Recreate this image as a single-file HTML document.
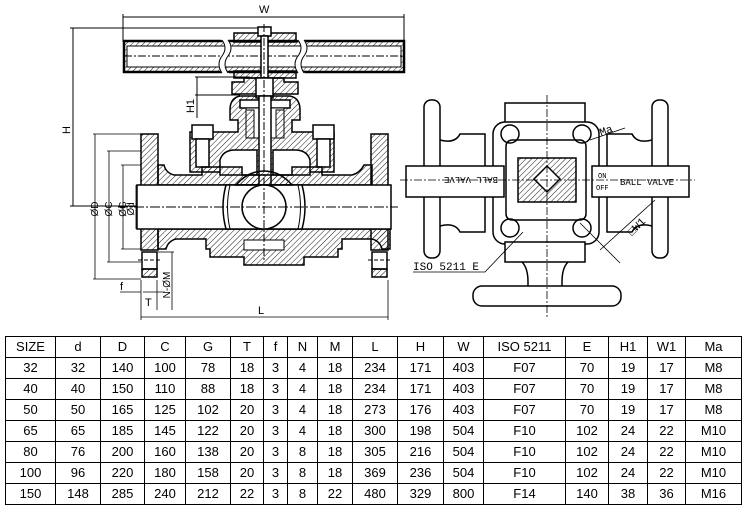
<!DOCTYPE html>
<html><head><meta charset="utf-8"><style>
body{margin:0;background:#fff;width:742px;height:507px;overflow:hidden;position:relative;font-family:"Liberation Sans",Arial,sans-serif}
svg{position:absolute;left:0;top:0}
table{position:absolute;left:5px;top:336px;border-collapse:collapse;font-size:13px;color:#000}
td{border:1px solid #000;height:20px;padding:0;text-align:center;line-height:20px}
</style></head><body>
<svg width="742" height="335" viewBox="0 0 742 335" font-family="Liberation Mono,monospace" font-size="11">
<defs><pattern id="h" width="4" height="4" patternUnits="userSpaceOnUse" patternTransform="rotate(45)"><line x1="0" y1="0" x2="0" y2="4" stroke="#000" stroke-width="0.9"/></pattern></defs>
<g stroke="#000" fill="none" stroke-width="1">
<!-- W dim -->
<line x1="123" y1="17" x2="404" y2="17"/><line x1="123" y1="14" x2="123" y2="42"/><line x1="404" y1="14" x2="404" y2="42"/>
<!-- H dim -->
<line x1="73" y1="28" x2="73" y2="206"/><line x1="70" y1="28" x2="262" y2="28"/><line x1="70" y1="206" x2="137" y2="206"/>
<!-- handle -->
<rect x="124" y="41" width="280" height="31" stroke-width="2.5" fill="url(#h)"/>
<rect x="127" y="46" width="274" height="21" fill="#fff" stroke="#000"/>
<line x1="124" y1="56" x2="404" y2="56" stroke-dasharray="8,2,2,2"/>
<path d="M222 40 q6 8 0 16 q-6 8 0 17 L228 73 q-6 -9 0 -17 q6 -8 0 -16z M298 40 q6 8 0 16 q-6 8 0 17 L304 73 q-6 -9 0 -17 q6 -8 0 -16z" fill="#fff" stroke="#fff"/>
<path d="M222 40 q6 8 0 16 q-6 8 0 17 M228 40 q6 8 0 16 q-6 8 0 17 M298 40 q6 8 0 16 q-6 8 0 17 M304 40 q6 8 0 16 q-6 8 0 17"/>
<rect x="234" y="33" width="62" height="9" fill="url(#h)" stroke-width="1.5"/>
<rect x="234" y="71" width="62" height="7" fill="url(#h)" stroke-width="1.5"/>
<rect x="258" y="27" width="13" height="9" fill="#fff" stroke-width="1.5"/>
<rect x="261" y="36" width="7" height="42" fill="#fff" stroke-width="1.5"/>
<!-- H1 -->
<line x1="195" y1="77" x2="250" y2="77"/><line x1="195" y1="95" x2="240" y2="95"/><line x1="197" y1="77" x2="197" y2="118"/>
<!-- bonnet upper -->
<path d="M232 82 h12 v-4 h40 v4 h14 v12 h-66z" fill="url(#h)" stroke-width="1.5"/>
<rect x="256" y="78" width="17" height="20" fill="#fff" stroke-width="1.5"/>
<!-- bonnet body -->
<path d="M230 110 q0 -12 10 -14 h50 q10 2 10 14 v10 h-8 v12 h42 v40 h-144 v-40 h48 v-12 h-8z" fill="url(#h)" stroke-width="1.5"/>
<rect x="240" y="100" width="50" height="8" fill="#fff" stroke-width="1.5"/>
<rect x="246" y="108" width="38" height="30" fill="#fff" stroke-width="1"/>
<rect x="246" y="110" width="8" height="28" fill="url(#h)" stroke-width="1"/>
<rect x="276" y="110" width="8" height="28" fill="url(#h)" stroke-width="1"/>
<rect x="259" y="96" width="12" height="90" fill="#fff" stroke-width="1.5"/>
<path d="M220 160 q3 -10 15 -10 h22 v25 h-37z M310 160 q-3 -10 -15 -10 h-22 v25 h37z" fill="#fff" stroke-width="1.5"/>
<!-- top bolts -->
<rect x="192" y="125" width="21" height="14" fill="#fff" stroke-width="1.5"/><rect x="196" y="139" width="13" height="28" fill="#fff" stroke-width="1.5"/>
<rect x="313" y="125" width="21" height="14" fill="#fff" stroke-width="1.5"/><rect x="317" y="139" width="13" height="28" fill="#fff" stroke-width="1.5"/>
<!-- body walls -->
<path d="M158 165 v20 h214 v-20 h-8 q-4 8 -12 10 h-30 v-8 h-30 v8 h-50 v-8 h-40 v8 h-28 q-8 -2 -10 -10z" fill="url(#h)" stroke-width="1.5"/>
<path d="M158 229 v20 h8 q2 -8 10 -10 h30 v10 h4 v8 h34 v8 h60 v-8 h34 v-8 h4 v-10 h30 q8 2 10 10 h8 v-20z" fill="url(#h)" stroke-width="1.5"/>
<rect x="244" y="240" width="40" height="10" fill="#fff" stroke-width="1"/>
<!-- flanges -->
<rect x="141" y="134" width="17" height="116" fill="url(#h)" stroke-width="1.5"/>
<rect x="371" y="134" width="17" height="116" fill="url(#h)" stroke-width="1.5"/>
<rect x="142" y="252" width="15" height="17" fill="#fff" stroke-width="1.5"/><rect x="142" y="269" width="15" height="8" fill="url(#h)" stroke-width="1.5"/>
<rect x="372" y="252" width="15" height="17" fill="#fff" stroke-width="1.5"/><rect x="372" y="269" width="15" height="8" fill="url(#h)" stroke-width="1.5"/>
<line x1="138" y1="260" x2="162" y2="260" stroke-dasharray="4,2"/><line x1="368" y1="260" x2="392" y2="260" stroke-dasharray="4,2"/>
<!-- bore -->
<rect x="137" y="185" width="254" height="44" fill="#fff" stroke-width="1.5"/>
<path d="M226 185 q-6 22 0 44 h76 q6 -22 0 -44z" fill="#fff" stroke-width="1.5"/>
<path d="M230 185 q-5 22 0 44 M298 185 q5 22 0 44" stroke-width="1"/>
<path d="M236 185 q12 -14 28 -14 q16 0 28 14z" fill="url(#h)" stroke-width="1.5"/>
<circle cx="264" cy="207" r="22" stroke-width="1.5" fill="#fff"/>
<line x1="118" y1="207" x2="398" y2="207" stroke-dasharray="10,2,2,2"/>
<line x1="264" y1="24" x2="264" y2="262" stroke-dasharray="8,2,2,2"/>
</g>
</svg>
<svg width="742" height="335" viewBox="0 0 742 335" font-family="Liberation Mono,monospace" font-size="10">
<defs><pattern id="h2" width="4" height="4" patternUnits="userSpaceOnUse" patternTransform="rotate(45)"><line x1="0" y1="0" x2="0" y2="4" stroke="#000" stroke-width="0.9"/></pattern></defs>
<g stroke="#000" fill="none" stroke-width="1.5">
<rect x="424" y="100" width="16" height="158" rx="7" fill="#fff"/>
<rect x="652" y="100" width="16" height="158" rx="7" fill="#fff"/>
<path d="M440 140 q15 4 20 -6 h25 v98 h-25 q-5 -10 -20 -6"/>
<path d="M652 140 q-15 4 -20 -6 h-25 v98 h25 q5 -10 20 -6"/>
<rect x="505" y="103" width="80" height="22" fill="#fff"/>
<rect x="493" y="122" width="106" height="122" rx="12" fill="#fff"/>
<rect x="506" y="140" width="80" height="80" rx="6" fill="#fff"/>
<rect x="518" y="158" width="58" height="44" fill="url(#h2)"/>
<path d="M547 166 l13 13 l-13 13 l-13 -13z" fill="#fff"/>
<circle cx="510" cy="134" r="9"/><circle cx="582" cy="134" r="9"/><circle cx="510" cy="228" r="9"/><circle cx="582" cy="228" r="9"/>
<rect x="406" y="166" width="98" height="31" fill="#fff"/>
<rect x="592" y="166" width="97" height="31" fill="#fff"/>
<rect x="505" y="242" width="80" height="20" fill="#fff"/>
<path d="M522 262 q6 6 6 20 v6 M568 262 q-6 6 -6 20 v6"/>
<rect x="473" y="286" width="148" height="20" rx="9" fill="#fff"/>
</g>
<g stroke="#000" stroke-width="0.8" fill="none">
<line x1="547" y1="95" x2="547" y2="318" stroke-dasharray="8,2,2,2"/>
<line x1="400" y1="180" x2="695" y2="180" stroke-dasharray="8,2,2,2"/>
<path d="M413 272 h72 l38 -40"/><path d="M580 223 l40 40"/><line x1="600" y1="250" x2="655" y2="200"/>
<line x1="590" y1="140" x2="625" y2="128"/>
</g>
<text x="413" y="270" font-size="11">ISO 5211 E</text>
<text x="601" y="136" font-size="11" transform="rotate(-20 601 136)">Ma</text>
<text x="632" y="236" font-size="11" transform="rotate(-45 632 236)">□W1</text>
<text x="412" y="185" font-size="9" transform="rotate(180 455 181)">BALL VALVE</text>
<text x="620" y="185" font-size="9">BALL VALVE</text>
<text x="598" y="178" font-size="7">ON</text><text x="596" y="190" font-size="7">OFF</text>
</svg>
<svg width="742" height="335" viewBox="0 0 742 335" font-family="Liberation Sans,sans-serif" font-size="11">
<text x="259" y="13">W</text>
<text x="70" y="130" transform="rotate(-90 70 130)" text-anchor="middle">H</text>
<text x="194" y="106" transform="rotate(-90 194 106)" text-anchor="middle">H1</text>
<g stroke="#000" stroke-width="0.8">
<line x1="95" y1="134" x2="95" y2="279"/><line x1="93" y1="134" x2="141" y2="134"/><line x1="93" y1="279" x2="141" y2="279"/>
<line x1="109" y1="151" x2="109" y2="262"/><line x1="107" y1="151" x2="141" y2="151"/><line x1="107" y1="262" x2="141" y2="262"/>
<line x1="123" y1="165" x2="123" y2="249"/><line x1="121" y1="165" x2="141" y2="165"/><line x1="121" y1="249" x2="141" y2="249"/>
<line x1="136" y1="185" x2="136" y2="229"/>
<line x1="141" y1="317" x2="388" y2="317"/><line x1="141" y1="280" x2="141" y2="320"/><line x1="388" y1="280" x2="388" y2="320"/>
<line x1="120" y1="292" x2="141" y2="292"/><line x1="143" y1="292" x2="165" y2="292"/>
<line x1="157" y1="280" x2="157" y2="310"/>
<line x1="172" y1="252" x2="172" y2="310"/><line x1="158" y1="252" x2="174" y2="252"/>
</g>
<text x="98" y="209" font-size="10" transform="rotate(-90 98 209)" text-anchor="middle">ØD</text>
<text x="112" y="209" font-size="10" transform="rotate(-90 112 209)" text-anchor="middle">ØC</text>
<text x="126" y="209" font-size="10" transform="rotate(-90 126 209)" text-anchor="middle">ØG</text>
<text x="134" y="209" font-size="10" transform="rotate(-90 134 209)" text-anchor="middle">Ød</text>
<text x="120" y="290">f</text><text x="145" y="306">T</text>
<text x="170" y="285" font-size="10" transform="rotate(-90 170 285)" text-anchor="middle">N-ØM</text>
<text x="258" y="314">L</text>
</svg>
<table>
<colgroup><col style="width:50px"><col style="width:45px"><col style="width:44px"><col style="width:41px"><col style="width:45px"><col style="width:33px"><col style="width:24px"><col style="width:30px"><col style="width:35px"><col style="width:45px"><col style="width:46px"><col style="width:40px"><col style="width:82px"><col style="width:43px"><col style="width:39px"><col style="width:38px"><col style="width:56px"></colgroup>
<tr><td>SIZE</td><td>d</td><td>D</td><td>C</td><td>G</td><td>T</td><td>f</td><td>N</td><td>M</td><td>L</td><td>H</td><td>W</td><td>ISO 5211</td><td>E</td><td>H1</td><td>W1</td><td>Ma</td></tr>
<tr><td>32</td><td>32</td><td>140</td><td>100</td><td>78</td><td>18</td><td>3</td><td>4</td><td>18</td><td>234</td><td>171</td><td>403</td><td>F07</td><td>70</td><td>19</td><td>17</td><td>M8</td></tr>
<tr><td>40</td><td>40</td><td>150</td><td>110</td><td>88</td><td>18</td><td>3</td><td>4</td><td>18</td><td>234</td><td>171</td><td>403</td><td>F07</td><td>70</td><td>19</td><td>17</td><td>M8</td></tr>
<tr><td>50</td><td>50</td><td>165</td><td>125</td><td>102</td><td>20</td><td>3</td><td>4</td><td>18</td><td>273</td><td>176</td><td>403</td><td>F07</td><td>70</td><td>19</td><td>17</td><td>M8</td></tr>
<tr><td>65</td><td>65</td><td>185</td><td>145</td><td>122</td><td>20</td><td>3</td><td>4</td><td>18</td><td>300</td><td>198</td><td>504</td><td>F10</td><td>102</td><td>24</td><td>22</td><td>M10</td></tr>
<tr><td>80</td><td>76</td><td>200</td><td>160</td><td>138</td><td>20</td><td>3</td><td>8</td><td>18</td><td>305</td><td>216</td><td>504</td><td>F10</td><td>102</td><td>24</td><td>22</td><td>M10</td></tr>
<tr><td>100</td><td>96</td><td>220</td><td>180</td><td>158</td><td>20</td><td>3</td><td>8</td><td>18</td><td>369</td><td>236</td><td>504</td><td>F10</td><td>102</td><td>24</td><td>22</td><td>M10</td></tr>
<tr><td>150</td><td>148</td><td>285</td><td>240</td><td>212</td><td>22</td><td>3</td><td>8</td><td>22</td><td>480</td><td>329</td><td>800</td><td>F14</td><td>140</td><td>38</td><td>36</td><td>M16</td></tr>
</table>
</body></html>
